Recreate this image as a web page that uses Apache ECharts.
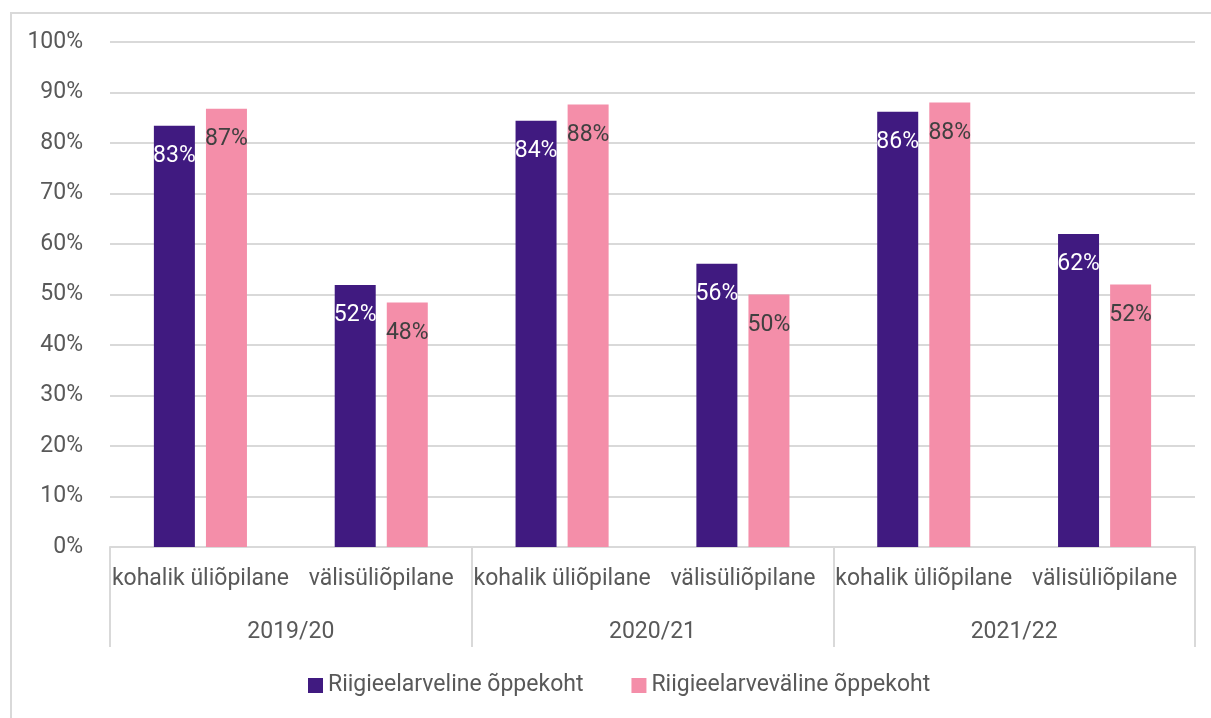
<!DOCTYPE html>
<html>
<head>
<meta charset="utf-8">
<script src="https://cdn.jsdelivr.net/npm/echarts@6/dist/echarts.min.js"></script>
<style>
  html, body { margin: 0; padding: 0; background: #fff; }
  .frame {
    position: absolute; left: 10px; top: 12px; right: 0; bottom: 0;
    border-left: 2px solid #d9d9d9; border-top: 2px solid #d9d9d9;
  }
  #chart { position: absolute; left: 0; top: 0; width: 1211px; height: 718px; }
</style>
</head>
<body>
<div class="frame"></div>
<div id="chart"></div>
<script>
// kategooriad
const years = ['2019/20', '2020/21', '2021/22'];
const categories = ['kohalik üliõpilane', 'välisüliõpilane', 'kohalik üliõpilane', 'välisüliõpilane', 'kohalik üliõpilane', 'välisüliõpilane'];
// väärtused (%)
const stateFunded = [83.4, 51.9, 84.4, 56.1, 86.2, 62.0];
const notStateFunded = [86.8, 48.4, 87.6, 50.0, 88.0, 52.0];
const seriesNames = ['Riigieelarveline õppekoht', 'Riigieelarveväline õppekoht'];
const yTicks = [0, 10, 20, 30, 40, 50, 60, 70, 80, 90, 100];

const textColor = '#595959';
const gridColor = '#d9d9d9';
const font = 'Roboto';
const fs = 23;

let chart = echarts.init(document.getElementById('chart'));
let option = {
    animation: false,
    textStyle: { fontFamily: font },
    color: ['#401a80', '#f48ea9'],
    grid: { left: 110, right: 16, top: 42, bottom: 171 },
    legend: {
        top: 669,
        left: 303,
        itemWidth: 15,
        itemHeight: 15,
        itemGap: 48,
        icon: 'rect',
        textStyle: { color: textColor, fontSize: fs, fontFamily: font },
        data: seriesNames
    },
    xAxis: [
        {
            type: 'category',
            data: categories,
            axisLine: { lineStyle: { color: gridColor, width: 2 } },
            axisTick: { show: false },
            axisLabel: { color: textColor, fontSize: fs, margin: 21, interval: 0 }
        },
        {
            type: 'category',
            data: years,
            position: 'bottom',
            axisLine: { show: false },
            axisTick: { show: true, length: 100, lineStyle: { color: gridColor, width: 2 } },
            axisLabel: { color: textColor, fontSize: fs, margin: 74, interval: 0 }
        }
    ],
    yAxis: {
        type: 'value',
        min: yTicks[0],
        max: yTicks[yTicks.length - 1],
        interval: 10,
        axisLine: { show: false },
        axisTick: { show: false },
        splitLine: { lineStyle: { color: gridColor, width: 2 } },
        axisLabel: { color: textColor, fontSize: fs, margin: 27, formatter: '{value}%' }
    },
    series: [
        {
            name: seriesNames[0],
            type: 'bar',
            data: stateFunded,
            barWidth: 41,
            barGap: '27%',
            label: {
                show: true, position: 'insideTop', distance: 19,
                color: '#ffffff', fontSize: fs,
                formatter: p => Math.round(p.value) + '%'
            }
        },
        {
            name: seriesNames[1],
            type: 'bar',
            data: notStateFunded,
            barWidth: 41,
            barGap: '27%',
            label: {
                show: true, position: 'insideTop', distance: 19,
                color: '#404040', fontSize: fs,
                formatter: p => Math.round(p.value) + '%'
            }
        }
    ]
};
chart.setOption(option);
</script>
</body>
</html>
